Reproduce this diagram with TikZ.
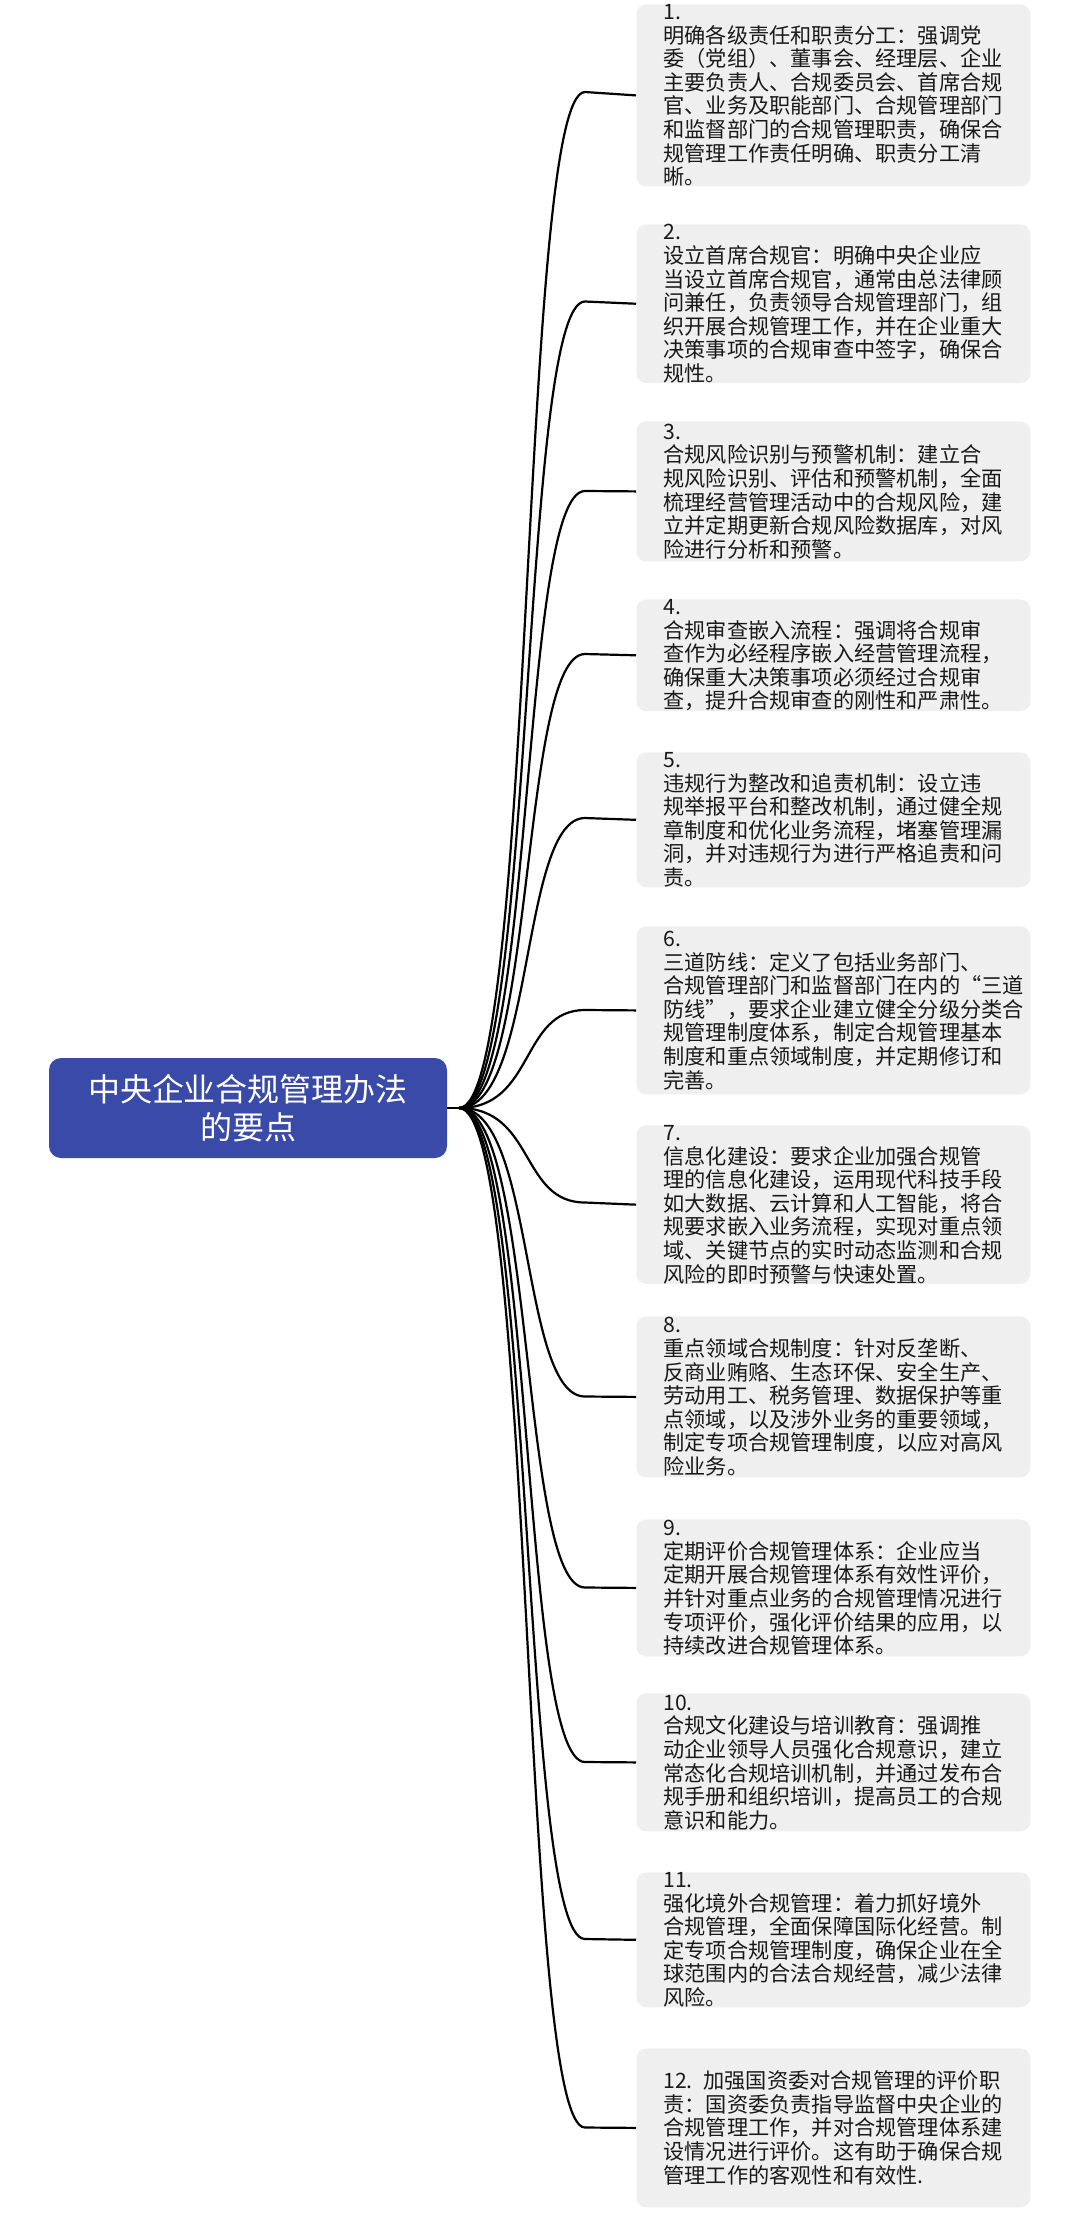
\documentclass[tikz,border=0pt]{standalone}
\usepackage{fontspec}
\setmainfont{Noto Sans CJK SC}
\definecolor{rootblue}{RGB}{58,74,168}
\definecolor{boxgray}{RGB}{239,239,239}
\begin{document}
\begin{tikzpicture}[x=0.5pt,y=-0.5pt,
  leaf/.style={fill=boxgray,rounded corners=5pt,anchor=north west,text width=170pt,align=left,
    inner xsep=13.5pt,inner ysep=0pt,font=\fontsize{10.6pt}{11.8pt}\selectfont,text=black!90},
  rootbox/.style={fill=rootblue,rounded corners=6pt,text=white,align=center,minimum width=199pt,
    minimum height=50pt,font=\fontsize{16pt}{19pt}\selectfont},
  conn/.style={line width=1.1pt,black}]
\useasboundingbox (0,0) rectangle (1080,2213);
\node[rootbox] (root) at (248,1108) {中央企业合规管理办法\\的要点};
\coordinate (hub) at (459,1108);
\draw[conn] (root.east) -- (hub);
\newcommand{\leafbox}[4]{%
  \node[leaf,minimum height=#3*0.5pt] (#1) at (636,#2) {#4};
  \draw[conn] (hub) .. controls (535,1108) and (520,#2+#3/2) .. (585,#2+#3/2) -- (#1.west);}
\leafbox{b1}{4}{176}{1. 明确各级责任和职责分工：强调党\\委（党组）、董事会、经理层、企业\\主要负责人、合规委员会、首席合规\\官、业务及职能部门、合规管理部门\\和监督部门的合规管理职责，确保合\\规管理工作责任明确、职责分工清\\晰。}
\leafbox{b2}{224}{155}{2. 设立首席合规官：明确中央企业应\\当设立首席合规官，通常由总法律顾\\问兼任，负责领导合规管理部门，组\\织开展合规管理工作，并在企业重大\\决策事项的合规审查中签字，确保合\\规性。}
\leafbox{b3}{421}{140}{3. 合规风险识别与预警机制：建立合\\规风险识别、评估和预警机制，全面\\梳理经营管理活动中的合规风险，建\\立并定期更新合规风险数据库，对风\\险进行分析和预警。}
\leafbox{b4}{599}{110}{4. 合规审查嵌入流程：强调将合规审\\查作为必经程序嵌入经营管理流程，\\确保重大决策事项必须经过合规审\\查，提升合规审查的刚性和严肃性。}
\leafbox{b5}{752}{132}{5. 违规行为整改和追责机制：设立违\\规举报平台和整改机制，通过健全规\\章制度和优化业务流程，堵塞管理漏\\洞，并对违规行为进行严格追责和问\\责。}
\leafbox{b6}{926}{168}{6. 三道防线：定义了包括业务部门、\\合规管理部门和监督部门在内的“三道\\防线”，要求企业建立健全分级分类合\\规管理制度体系，制定合规管理基本\\制度和重点领域制度，并定期修订和\\完善。}
\leafbox{b7}{1125}{155}{7. 信息化建设：要求企业加强合规管\\理的信息化建设，运用现代科技手段\\如大数据、云计算和人工智能，将合\\规要求嵌入业务流程，实现对重点领\\域、关键节点的实时动态监测和合规\\风险的即时预警与快速处置。}
\leafbox{b8}{1316}{161}{8. 重点领域合规制度：针对反垄断、\\反商业贿赂、生态环保、安全生产、\\劳动用工、税务管理、数据保护等重\\点领域，以及涉外业务的重要领域，\\制定专项合规管理制度，以应对高风\\险业务。}
\leafbox{b9}{1519}{137}{9. 定期评价合规管理体系：企业应当\\定期开展合规管理体系有效性评价，\\并针对重点业务的合规管理情况进行\\专项评价，强化评价结果的应用，以\\持续改进合规管理体系。}
\leafbox{b10}{1693}{138}{10. 合规文化建设与培训教育：强调推\\动企业领导人员强化合规意识，建立\\常态化合规培训机制，并通过发布合\\规手册和组织培训，提高员工的合规\\意识和能力。}
\leafbox{b11}{1872}{134}{11. 强化境外合规管理：着力抓好境外\\合规管理，全面保障国际化经营。制\\定专项合规管理制度，确保企业在全\\球范围内的合法合规经营，减少法律\\风险。}
\leafbox{b12}{2048}{159}{12. 加强国资委对合规管理的评价职\\责：国资委负责指导监督中央企业的\\合规管理工作，并对合规管理体系建\\设情况进行评价。这有助于确保合规\\管理工作的客观性和有效性.}
\end{tikzpicture}
\end{document}
